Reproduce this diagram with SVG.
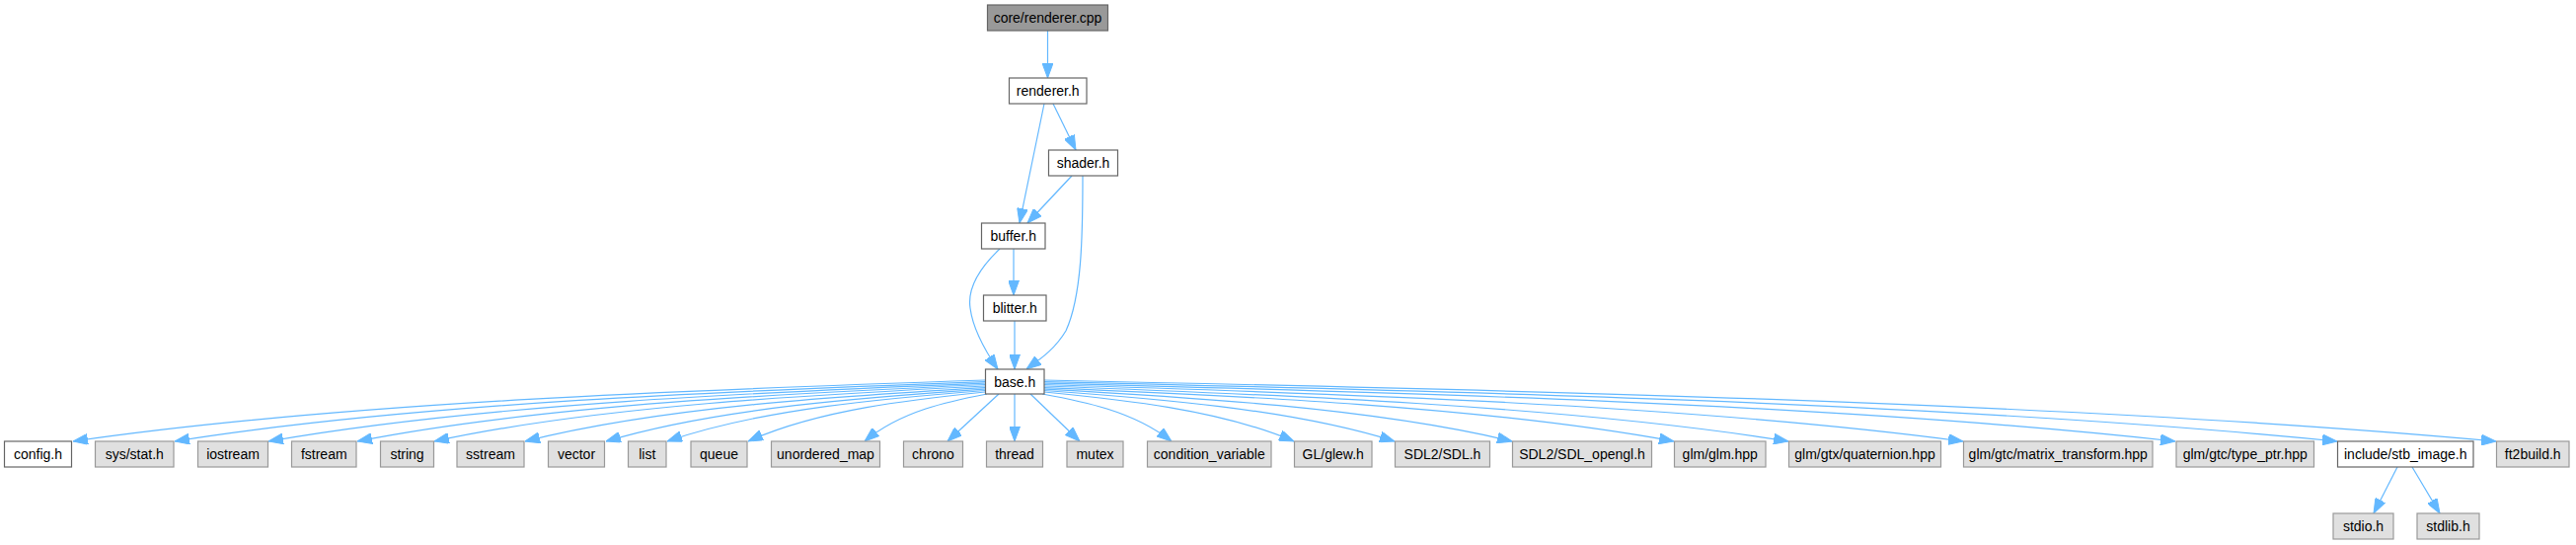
<svg xmlns="http://www.w3.org/2000/svg" width="2610" height="552" viewBox="0 0 2610 552">
<style>
  .n rect { stroke-width: 1.2; }
  .g rect { fill: #e0e0e0; stroke: #999999; }
  .w rect { fill: #ffffff; stroke: #666666; }
  .r rect { fill: #999999; stroke: #666666; }
  text { font-family: "Liberation Sans", Arial, sans-serif; font-size: 14px; fill: #000000; text-anchor: middle; }
  #edges path { fill: none; stroke: #63b8ff; stroke-width: 1.2; marker-end: url(#ah); }
</style>
<defs>
  <marker id="ah" markerUnits="userSpaceOnUse" viewBox="0 0 15 11" markerWidth="15" markerHeight="11" refX="15" refY="5.5" orient="auto">
    <path d="M0,0 L15,5.5 L0,11 z" fill="#63b8ff" stroke="#63b8ff" stroke-width="1"/>
  </marker>
</defs>
<rect width="2610" height="552" fill="#ffffff"/>
<g id="edges">
  <path d="M1061.5,31 L1061.5,79"/>
  <path d="M1067,105 L1090,152"/>
  <path d="M1058,105 L1033,226"/>
  <path d="M1086,178 L1041,226"/>
  <path d="M1097,178 C1097,240 1096,300 1080,335 C1068,355 1052,365 1040,374"/>
  <path d="M1027,252 L1027,299"/>
  <path d="M1013,252 C992,272 980,292 983,312 C986,335 1000,358 1011,374"/>
  <path d="M1028,325 L1028,374"/>
  <path d="M998,385 C720.8,394.3 351.2,406.7 74,447"/>
  <path d="M998,386.5 C751.7,395.6 423.3,407.7 177,447"/>
  <path d="M998,388 C780.2,396.9 489.8,408.7 272,447"/>
  <path d="M998,389.5 C807.2,398.1 552.8,409.6 362,447"/>
  <path d="M998,391 C830.6,399.4 607.4,410.6 440,447"/>
  <path d="M998,392.5 C858.2,400.7 671.8,411.6 532,447"/>
  <path d="M998,394 C882.8,402 729.2,412.6 614,447"/>
  <path d="M998,395.5 C901.4,403.2 772.6,413.5 676,447"/>
  <path d="M998,397 C926,404.5 830,414.5 758,447"/>
  <path d="M1000,399 C962.8,406.2 913.2,415.8 876,447"/>
  <path d="M1012,399 L960,447"/>
  <path d="M1028,399 L1028,447"/>
  <path d="M1044,399 L1094,447"/>
  <path d="M1056,399 C1095.3,406.2 1147.7,415.8 1187,447"/>
  <path d="M1058,397 C1133.9,404.5 1235.1,414.5 1311,447"/>
  <path d="M1058,395.5 C1164.5,403.2 1306.5,413.5 1413,447"/>
  <path d="M1058,394 C1200.2,402 1389.8,412.6 1532,447"/>
  <path d="M1058,392.5 C1249.4,400.7 1504.6,411.6 1696,447"/>
  <path d="M1058,391 C1284.2,399.4 1585.8,410.6 1812,447"/>
  <path d="M1058,389.5 C1337.3,398.1 1709.7,409.6 1989,447"/>
  <path d="M1058,388 C1401.8,396.9 1860.2,408.7 2204,447"/>
  <path d="M1058,386.5 C1451,395.6 1975,407.7 2368,447"/>
  <path d="M1058,385 C1499.3,394.3 2087.7,406.7 2529,447"/>
  <path d="M2429,473 L2405,520"/>
  <path d="M2444,473 L2472,520"/>
</g>
<g id="core_renderer_cpp" class="n r"><rect x="1000.5" y="5" width="122" height="26"/><text x="1061.5" y="23">core/renderer.cpp</text></g>
<g id="renderer_h" class="n w"><rect x="1022.5" y="79" width="78.5" height="26"/><text x="1061.75" y="97">renderer.h</text></g>
<g id="shader_h" class="n w"><rect x="1062.5" y="152" width="70" height="26"/><text x="1097.5" y="170">shader.h</text></g>
<g id="buffer_h" class="n w"><rect x="994.5" y="226" width="64.5" height="26"/><text x="1026.75" y="244">buffer.h</text></g>
<g id="blitter_h" class="n w"><rect x="996.5" y="299" width="63.5" height="26"/><text x="1028.25" y="317">blitter.h</text></g>
<g id="base_h" class="n w"><rect x="998.5" y="374" width="59.5" height="25"/><text x="1028.25" y="391.5">base.h</text></g>
<g id="config_h" class="n w"><rect x="4.5" y="447" width="68" height="26"/><text x="38.5" y="465">config.h</text></g>
<g id="sys_stat_h" class="n g"><rect x="96.5" y="447" width="79.5" height="26"/><text x="136.25" y="465">sys/stat.h</text></g>
<g id="iostream" class="n g"><rect x="200.5" y="447" width="71" height="26"/><text x="236" y="465">iostream</text></g>
<g id="fstream" class="n g"><rect x="295.5" y="447" width="65.5" height="26"/><text x="328.25" y="465">fstream</text></g>
<g id="string" class="n g"><rect x="385.5" y="447" width="54" height="26"/><text x="412.5" y="465">string</text></g>
<g id="sstream" class="n g"><rect x="463" y="447" width="68" height="26"/><text x="497" y="465">sstream</text></g>
<g id="vector" class="n g"><rect x="555.5" y="447" width="57" height="26"/><text x="584" y="465">vector</text></g>
<g id="list" class="n g"><rect x="636.5" y="447" width="38.5" height="26"/><text x="655.75" y="465">list</text></g>
<g id="queue" class="n g"><rect x="700" y="447" width="57" height="26"/><text x="728.5" y="465">queue</text></g>
<g id="unordered_map" class="n g"><rect x="781.5" y="447" width="110" height="26"/><text x="836.5" y="465">unordered_map</text></g>
<g id="chrono" class="n g"><rect x="915.5" y="447" width="60" height="26"/><text x="945.5" y="465">chrono</text></g>
<g id="thread" class="n g"><rect x="999.5" y="447" width="57" height="26"/><text x="1028" y="465">thread</text></g>
<g id="mutex" class="n g"><rect x="1081" y="447" width="57" height="26"/><text x="1109.5" y="465">mutex</text></g>
<g id="condition_variable" class="n g"><rect x="1162.5" y="447" width="125.5" height="26"/><text x="1225.25" y="465">condition_variable</text></g>
<g id="gl_glew_h" class="n g"><rect x="1311.5" y="447" width="78.5" height="26"/><text x="1350.75" y="465">GL/glew.h</text></g>
<g id="sdl2_sdl_h" class="n g"><rect x="1413.5" y="447" width="96" height="26"/><text x="1461.5" y="465">SDL2/SDL.h</text></g>
<g id="sdl2_sdl_opengl_h" class="n g"><rect x="1532.5" y="447" width="141" height="26"/><text x="1603" y="465">SDL2/SDL_opengl.h</text></g>
<g id="glm_glm_hpp" class="n g"><rect x="1696.5" y="447" width="92.5" height="26"/><text x="1742.75" y="465">glm/glm.hpp</text></g>
<g id="glm_gtx_quaternion_hpp" class="n g"><rect x="1812.5" y="447" width="154" height="26"/><text x="1889.5" y="465">glm/gtx/quaternion.hpp</text></g>
<g id="glm_gtc_matrix_transform_hpp" class="n g"><rect x="1989.5" y="447" width="191.5" height="26"/><text x="2085.25" y="465">glm/gtc/matrix_transform.hpp</text></g>
<g id="glm_gtc_type_ptr_hpp" class="n g"><rect x="2205" y="447" width="139.5" height="26"/><text x="2274.75" y="465">glm/gtc/type_ptr.hpp</text></g>
<g id="include_stb_image_h" class="n w"><rect x="2368.5" y="447" width="137.5" height="26"/><text x="2437.25" y="465">include/stb_image.h</text></g>
<g id="ft2build_h" class="n g"><rect x="2529.5" y="447" width="73.5" height="26"/><text x="2566.25" y="465">ft2build.h</text></g>
<g id="stdio_h" class="n g"><rect x="2364" y="520" width="61" height="26"/><text x="2394.5" y="538">stdio.h</text></g>
<g id="stdlib_h" class="n g"><rect x="2449" y="520" width="63" height="26"/><text x="2480.5" y="538">stdlib.h</text></g>
</svg>
